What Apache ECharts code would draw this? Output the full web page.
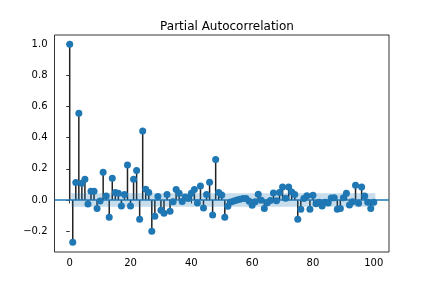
<!DOCTYPE html>
<html><head><meta charset="utf-8">
<script src="https://cdn.jsdelivr.net/npm/echarts@6/dist/echarts.min.js"></script>
<style>html,body{margin:0;padding:0;background:#fff}#c{width:432px;height:288px}</style>
</head><body><div id="c"></div>
<script>
const titleText = "Partial Autocorrelation";
const pacf = [1.0,-0.272,0.113,0.557,0.108,0.134,-0.026,0.056,0.056,-0.054,
-0.007,0.178,0.026,-0.111,0.140,0.048,0.043,-0.038,0.035,0.225,
-0.038,0.134,0.190,-0.124,0.443,0.069,0.049,-0.201,-0.105,0.022,
-0.065,-0.085,0.036,-0.072,-0.011,0.068,0.043,-0.009,0.020,0.009,
0.044,0.068,-0.019,0.090,-0.052,0.036,0.114,-0.097,0.261,0.049,
0.032,-0.111,-0.040,-0.012,-0.006,0.000,0.005,0.010,0.010,-0.008,
-0.033,-0.011,0.037,-0.002,-0.054,-0.017,-0.003,0.045,-0.004,0.048,
0.084,0.012,0.084,0.052,0.036,-0.124,-0.060,0.010,0.027,-0.060,
0.030,-0.024,-0.015,-0.038,-0.015,-0.020,0.013,0.015,-0.060,-0.054,
0.015,0.043,-0.032,-0.011,0.094,-0.021,0.083,0.026,-0.015,-0.054,-0.015];
const lags = pacf.map((v, i) => i);
const confHalf = 0.043;
const bandLags = [0.5, 100.5];
const xTicks = [0, 20, 40, 60, 80, 100];
const yTicks = [-0.2, 0.0, 0.2, 0.4, 0.6, 0.8, 1.0];

const chart = echarts.init(document.getElementById('c'), null, {renderer: 'canvas'});
const font = 'DejaVu Sans';
const pts = lags.map((l, i) => [l, pacf[i]]);
chart.setOption({
  animation: false,
  backgroundColor: '#fff',
  title: {text: titleText, left: 222, top: 16, textAlign: 'center',
    textStyle: {fontFamily: font, fontSize: 12, fontWeight: 'normal', color: '#000'}},
  grid: {left: 54.5, top: 35, width: 334.5, height: 217, show: true,
    borderColor: '#000', borderWidth: 0.8, backgroundColor: 'transparent'},
  xAxis: {type: 'value', min: -5, max: 105,
    axisLine: {show: false}, splitLine: {show: false},
    axisTick: {show: true, inside: false, length: 3.5, customValues: xTicks, lineStyle: {color: '#000', width: 0.8}},
    axisLabel: {customValues: xTicks, margin: 6, fontFamily: font, fontSize: 10, color: '#000'}},
  yAxis: {type: 'value', min: -0.334, max: 1.06,
    axisLine: {show: false}, splitLine: {show: false},
    axisTick: {show: true, inside: false, length: 3.5, customValues: yTicks, lineStyle: {color: '#000', width: 0.8}},
    axisLabel: {customValues: yTicks, margin: 7, fontFamily: font, fontSize: 10, color: '#000',
      formatter: v => (v < 0 ? '\u2212' : '') + Math.abs(v).toFixed(1)}},
  series: [
    {type: 'custom', z: 1, data: pts, clip: true,
      renderItem: (params, api) => {
        const top = api.coord([api.value(0), api.value(1)]);
        const base = api.coord([api.value(0), 0]);
        return {type: 'line', shape: {x1: top[0], y1: base[1], x2: top[0], y2: top[1]},
          style: {stroke: '#222', lineWidth: 1.5}};
      }},
    {type: 'custom', z: 2, data: [[bandLags[0], bandLags[1]]],
      renderItem: (params, api) => {
        const a = api.coord([api.value(0), confHalf]);
        const b = api.coord([api.value(1), -confHalf]);
        return {type: 'rect', shape: {x: a[0], y: a[1], width: b[0] - a[0], height: b[1] - a[1]},
          style: {fill: 'rgba(31,119,180,0.25)'}};
      }},
    {type: 'scatter', z: 4, data: pts, symbol: 'circle', symbolSize: 7,
      itemStyle: {color: '#1f77b4', opacity: 1},
      markLine: {silent: true, symbol: 'none', label: {show: false}, z: 3,
        lineStyle: {color: '#1f77b4', width: 1.5, type: 'solid'},
        data: [{yAxis: 0}]}}
  ]
});
</script></body></html>
